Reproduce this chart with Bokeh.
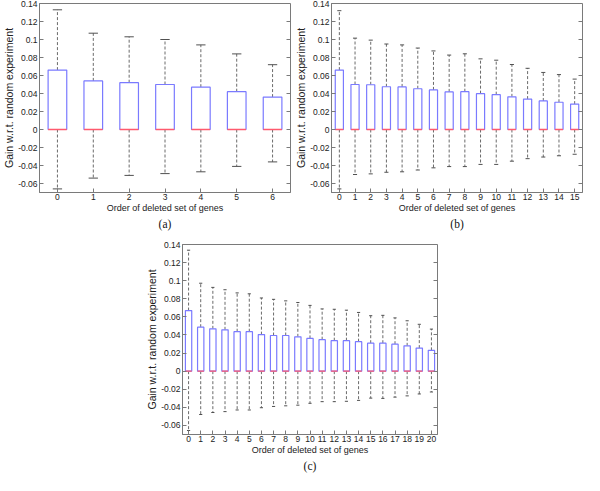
from bokeh.plotting import figure
from bokeh.models import (FixedTicker, NumeralTickFormatter, LinearAxis, Title,
                          Range1d, Spacer, ColumnDataSource, CustomLabelingPolicy)
from bokeh.layouts import column, row
from bokeh.embed import file_html
from bokeh.resources import INLINE

# ---------------- data ----------------
orders_a = [0, 1, 2, 3, 4, 5, 6]
q1_a = [0, 0, 0, 0, 0, 0, 0]
med_a = [0, 0, 0, 0, 0, 0, 0]
q3_a = [0.066, 0.054, 0.052, 0.050, 0.047, 0.042, 0.036]
hi_a = [0.133, 0.107, 0.103, 0.100, 0.094, 0.084, 0.072]
lo_a = [-0.066, -0.054, -0.051, -0.049, -0.047, -0.041, -0.036]

orders_b = [0, 1, 2, 3, 4, 5, 6, 7, 8, 9, 10, 11, 12, 13, 14, 15]
q1_b = [0, 0, 0, 0, 0, 0, 0, 0, 0, 0, 0, 0, 0, 0, 0, 0]
med_b = [0, 0, 0, 0, 0, 0, 0, 0, 0, 0, 0, 0, 0, 0, 0, 0]
q3_b = [0.066, 0.050, 0.0497, 0.0475, 0.0473, 0.0453, 0.044, 0.0418, 0.042,
        0.0398, 0.0387, 0.0363, 0.0338, 0.0317, 0.0303, 0.0282]
hi_b = [0.132, 0.1015, 0.0993, 0.095, 0.094, 0.0905, 0.0873, 0.0827, 0.0841,
        0.0785, 0.077, 0.0722, 0.068, 0.0634, 0.061, 0.056]
lo_b = [-0.066, -0.050, -0.0493, -0.0475, -0.047, -0.045, -0.0426, -0.0412,
        -0.0412, -0.0388, -0.0388, -0.0352, -0.0324, -0.0306, -0.0292, -0.0275]

orders_c = [0, 1, 2, 3, 4, 5, 6, 7, 8, 9, 10, 11, 12, 13, 14, 15, 16, 17, 18, 19, 20]
q1_c = [0, 0, 0, 0, 0, 0, 0, 0, 0, 0, 0, 0, 0, 0, 0, 0, 0, 0, 0, 0, 0]
med_c = [0, 0, 0, 0, 0, 0, 0, 0, 0, 0, 0, 0, 0, 0, 0, 0, 0, 0, 0, 0, 0]
q3_c = [0.067, 0.0486, 0.0468, 0.0457, 0.0436, 0.0436, 0.0404, 0.0394, 0.0394,
        0.038, 0.0362, 0.0348, 0.0337, 0.0337, 0.0326, 0.0309, 0.0309, 0.0298,
        0.028, 0.0255, 0.023]
hi_c = [0.1337, 0.0972, 0.0926, 0.090, 0.0865, 0.0855, 0.0809, 0.0794, 0.0777,
        0.0759, 0.0727, 0.0688, 0.0684, 0.0674, 0.0649, 0.0613, 0.0617, 0.0589,
        0.0557, 0.0518, 0.0465]
lo_c = [-0.0656, -0.0479, -0.0457, -0.0447, -0.0429, -0.0429, -0.0404, -0.039,
        -0.0383, -0.0376, -0.0355, -0.0337, -0.0337, -0.0333, -0.0323, -0.0298,
        -0.0301, -0.0287, -0.0273, -0.0252, -0.023]

y_ticks = [-0.06, -0.04, -0.02, 0, 0.02, 0.04, 0.06, 0.08, 0.1, 0.12, 0.14]
y_label = "Gain w.r.t. random experiment"
x_label = "Order of deleted set of genes"

SANS = "Liberation Sans"
SERIF = "Liberation Serif"
BLUE = "#7a7aff"
RED = "#ff5a6e"
GREY = "#7a7a7a"

NO_LABELS = CustomLabelingPolicy(
    code="const all = [...indices]; for (const i of all) { indices.unset(i) } return indices")


def panel(orders, q1, med, q3, hi, lo, caption, width, height,
          b_left, b_right, b_top, b_bottom):
    box_w = 0.52
    cap_w = 0.26
    src = ColumnDataSource(dict(
        x=orders, q1=q1, med=med, q3=q3, hi=hi, lo=lo,
        xl=[o - box_w / 2 for o in orders], xr=[o + box_w / 2 for o in orders],
        cl=[o - cap_w / 2 for o in orders], cr=[o + cap_w / 2 for o in orders],
    ))
    x_end = orders[-1] + 0.5
    p = figure(width=width, height=height, output_backend="svg",
               toolbar_location=None,
               x_range=Range1d(orders[0] - 0.5, x_end),
               y_range=Range1d(-0.07, 0.14),
               min_border_left=b_left, min_border_right=b_right,
               min_border_top=b_top, min_border_bottom=b_bottom)
    p.xgrid.visible = False
    p.ygrid.visible = False
    p.outline_line_color = GREY
    p.outline_line_width = 1
    p.background_fill_color = "white"
    p.border_fill_color = "white"

    # whiskers
    p.segment(x0="x", y0="q3", x1="x", y1="hi", source=src,
              line_color="#6a6a6a", line_dash="3 2", line_width=1)
    p.segment(x0="x", y0="q1", x1="x", y1="lo", source=src,
              line_color="#6a6a6a", line_dash="3 2", line_width=1)
    # caps
    p.segment(x0="cl", y0="hi", x1="cr", y1="hi", source=src,
              line_color="#505050", line_width=1)
    p.segment(x0="cl", y0="lo", x1="cr", y1="lo", source=src,
              line_color="#505050", line_width=1)
    # boxes
    p.quad(left="xl", right="xr", bottom="q1", top="q3", source=src,
           fill_color="white", line_color=BLUE, line_width=1.2)
    # medians
    p.segment(x0="xl", y0="med", x1="xr", y1="med", source=src,
              line_color=RED, line_width=1.3)

    for ax in (p.xaxis[0], p.yaxis[0]):
        ax.axis_line_color = GREY
        ax.major_tick_line_color = GREY
        ax.major_tick_in = 4
        ax.major_tick_out = 0
        ax.minor_tick_line_color = None
        ax.major_label_text_font = SANS
        ax.major_label_text_font_size = "8.5px"
        ax.major_label_text_color = "#222222"
        ax.axis_label_text_font = SANS
        ax.axis_label_text_font_style = "normal"
        ax.axis_label_text_color = "#222222"
        ax.axis_label_standoff = 0
        ax.major_label_standoff = 2

    p.xaxis.ticker = FixedTicker(ticks=orders)
    p.xaxis.axis_label = x_label
    p.xaxis.axis_label_text_font_size = "9px"
    p.xaxis.major_label_standoff = 1

    p.yaxis.ticker = FixedTicker(ticks=y_ticks)
    p.yaxis.formatter = NumeralTickFormatter(format="0.[00]")
    p.yaxis.axis_label = y_label
    p.yaxis.axis_label_text_font_size = "10.5px"

    # tick marks on the right edge of the box (no labels, no extra border)
    right = LinearAxis(ticker=FixedTicker(ticks=y_ticks),
                       fixed_location=x_end,
                       major_label_policy=NO_LABELS,
                       major_tick_in=4, major_tick_out=0,
                       major_label_standoff=0,
                       major_tick_line_color=GREY,
                       minor_tick_line_color=None, axis_line_color=None)
    p.add_layout(right, "right")

    p.add_layout(Title(text=caption, align="center", text_font=SERIF,
                       text_font_size="11.5px", text_font_style="normal",
                       text_color="#111111", standoff=0), "below")
    return p


pa = panel(orders_a, q1_a, med_a, q3_a, hi_a, lo_a, "(a)",
           292, 232, 30, 2, 3, 40)
pb = panel(orders_b, q1_b, med_b, q3_b, hi_b, lo_b, "(b)",
           292, 232, 30, 2, 3, 40)
pc = panel(orders_c, q1_c, med_c, q3_c, hi_c, lo_c, "(c)",
           298, 242, 30, 4, 12, 40)

layout = column(row(pa, pb), row(Spacer(width=143), pc))

open("out.html", "w").write(file_html(layout, INLINE))
